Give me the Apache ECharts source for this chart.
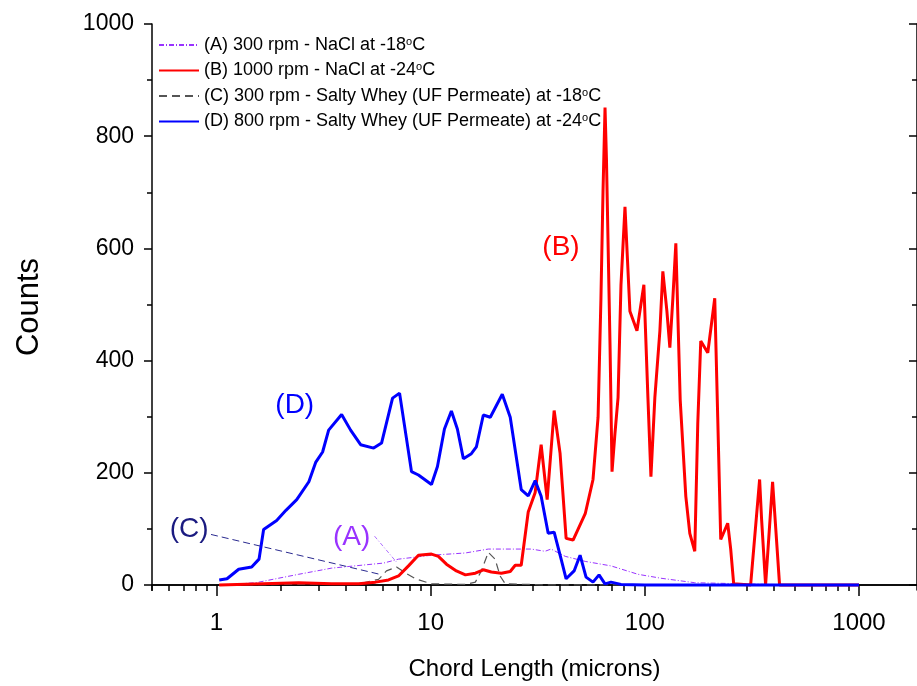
<!DOCTYPE html>
<html><head><meta charset="utf-8">
<script src="https://cdn.jsdelivr.net/npm/echarts@6/dist/echarts.min.js"></script>
<style>html,body{margin:0;padding:0;background:#fff}#c{width:917px;height:686px}</style>
</head><body><div id="c"></div>
<script>
const seriesNames = [
  '(A) 300 rpm - NaCl at -18°C',
  '(B) 1000 rpm - NaCl at -24°C',
  '(C) 300 rpm - Salty Whey (UF Permeate) at -18°C',
  '(D) 800 rpm - Salty Whey (UF Permeate) at -24°C'
];
// [chord length (microns), counts]
const seriesA = [[1.27,2],[1.53,4],[1.89,11],[2.42,19],[3.45,30],[6.03,39],[7.08,46],[10.09,53],[14.53,57],[18.59,64],[29.5,64],[34.2,60],[36.5,64],[42.5,51],[52.7,42],[69.5,34],[92.9,19],[118.9,12],[171,4],[292.6,2],[516,0],[1000,0]];
const seriesB = [[1.03,0],[2.42,4],[3.45,2],[4.61,2],[5.53,5],[6.36,9],[7.08,16],[7.88,34],[8.77,53],[10.09,55],[10.87,51],[11.85,37],[13.19,25],[14.53,18],[16.17,21],[17.62,27],[19.2,23],[21.38,21],[23.53,24],[24.83,35],[26.48,35],[28.55,130],[30.77,165],[32.81,250],[35.0,152],[37.73,311],[40.2,235],[42.91,83],[46.25,80],[52.7,127],[57.3,188],[60.5,299],[62.4,511],[63.8,701],[65.2,851],[66.2,760],[68.8,428],[70.3,202],[72.5,269],[75.0,334],[77.4,535],[80.8,674],[85.2,488],[91.9,453],[99.0,535],[103.4,334],[106.8,193],[111.4,334],[117.6,453],[121.4,559],[126.8,488],[130.9,423],[135.2,511],[139.6,609],[146.3,330],[155.4,158],[162.2,92],[171.1,60],[176.7,287],[182.5,435],[196.8,414],[212.1,511],[219.0,299],[226.2,81],[243.8,110],[251.8,64],[260.0,2],[312,0],[343.6,188],[351,117],[366.4,0],[395,184],[425.8,0],[1000,0]];
const seriesC = [[1.03,0],[4.61,2],[5.71,10],[6.22,25],[6.93,32],[7.72,20],[8.5,11],[10.09,2],[14.53,1],[16.17,5],[17.24,25],[18.59,58],[20.0,46],[21.1,16],[22.3,2],[35.4,0],[65.2,0],[100,0]];
const seriesD = [[1.03,9],[1.12,11],[1.27,28],[1.46,32],[1.58,46],[1.66,99],[1.91,115],[2.11,133],[2.37,152],[2.70,184],[2.91,219],[3.13,237],[3.34,276],[3.84,304],[4.23,276],[4.71,250],[5.42,244],[5.90,253],[6.64,333],[7.16,342],[8.14,202],[8.77,196],[10.09,179],[10.76,211],[11.60,278],[12.50,310],[13.33,278],[14.22,225],[15.49,234],[16.35,246],[17.62,303],[18.99,299],[21.60,340],[23.53,299],[26.48,170],[28.55,159],[30.77,186],[32.81,158],[35.38,92],[37.73,94],[40.67,46],[42.91,11],[46.76,25],[49.86,53],[53.17,14],[57.30,5],[61.13,18],[65.18,2],[69.50,5],[77.4,1],[100,0],[200,0],[500,0],[1000,0]];
const xMajorTicks = [1, 10, 100, 1000];
const xMinorTicks = [0.5,0.6,0.7,0.8,0.9,2,3,4,5,6,7,8,9,20,30,40,50,60,70,80,90,200,300,400,500,600,700,800,900];
const yMajorTicks = [0, 200, 400, 600, 800, 1000];
const yMinorTicks = [100, 300, 500, 700, 900];
const annotations = [
  {text: '(A)', at: [4.28, 85], color: '#9933ff'},
  {text: '(B)', at: [40.6, 602], color: '#ff0000'},
  {text: '(C)', at: [0.745, 99], color: '#1a1a80'},
  {text: '(D)', at: [2.32, 320], color: '#0000ff'}
];
const leaderC = [[0.943, 90], [5.71, 19.5]];
const leaderA = [[5.47, 87], [6.92, 41]];

const FONT = 'Liberation Sans, Arial, sans-serif';
const X_MIN = 0.5, X_MAX = 1866, Y_MIN = -9, Y_MAX = 1000;

const chart = echarts.init(document.getElementById('c'), null, {renderer: 'canvas'});
const plain = v => String(v);

function xAxisDef(pos, ticks, len, inside, showLine, showLabel, labelVals, name) {
  return {
    type: 'log', logBase: 10, position: pos, min: X_MIN, max: X_MAX,
    gridIndex: 0,
    name: name || '', nameLocation: 'middle', nameGap: 67,
    nameTextStyle: {fontFamily: FONT, fontSize: 24, color: '#000'},
    axisLine: {show: showLine, lineStyle: {color: '#000', width: 1.5}},
    axisTick: {show: true, inside: inside, length: len, customValues: ticks, lineStyle: {color: '#000', width: 1.5}},
    axisLabel: {show: showLabel, customValues: labelVals || ticks, formatter: plain, margin: 21, fontFamily: FONT, fontSize: 24, color: '#000'},
    splitLine: {show: false}, minorTick: {show: false}
  };
}
function yAxisDef(pos, ticks, len, inside, showLine, showLabel, name) {
  return {
    type: 'value', position: pos, min: Y_MIN, max: Y_MAX, gridIndex: 0,
    name: name || '', nameLocation: 'middle', nameGap: 107, nameRotate: 90,
    nameTextStyle: {fontFamily: FONT, fontSize: 31, color: '#000'},
    axisLine: {show: showLine, lineStyle: {color: '#000', width: 1.5}},
    axisTick: {show: true, inside: inside, length: len, customValues: ticks, lineStyle: {color: '#000', width: 1.5}},
    axisLabel: {show: showLabel, customValues: ticks, formatter: plain, margin: 18, fontFamily: FONT, fontSize: 23, color: '#000'},
    splitLine: {show: false}
  };
}

const option = {
  backgroundColor: '#fff',
  animation: false,
  grid: {left: 152, right: -2, top: 24, bottom: 92, containLabel: false},
  legend: {
    orient: 'vertical', left: 158, top: 36, padding: 0, itemWidth: 40, itemHeight: 14, itemGap: 7.5,
    itemStyle: {color: 'rgba(0,0,0,0)', borderColor: 'rgba(0,0,0,0)', borderWidth: 0, opacity: 0},
    textStyle: {fontFamily: FONT, fontSize: 18, color: '#000', lineHeight: 18,
      rich: {s: {fontFamily: FONT, fontSize: 11, lineHeight: 18, verticalAlign: 'top', color: '#000'}}},
    formatter: n => n.replace('°C', '{s|o}C'),
    data: seriesNames
  },
  xAxis: [
    xAxisDef('bottom', xMajorTicks, 10, false, true, true, xMajorTicks, 'Chord Length (microns)'),
    xAxisDef('bottom', xMinorTicks, 6, false, false, false),
    xAxisDef('top', xMajorTicks, 11, true, true, false),
    xAxisDef('top', xMinorTicks, 6, true, false, false)
  ],
  yAxis: [
    yAxisDef('left', yMajorTicks, 8, false, true, true, 'Counts'),
    yAxisDef('left', yMinorTicks, 5, false, false, false),
    yAxisDef('right', yMajorTicks, 8, true, true, false),
    yAxisDef('right', yMinorTicks, 5, true, false, false)
  ],
  series: [
    {name: seriesNames[0], type: 'line', data: seriesA, showSymbol: false, symbol: 'none',
     lineStyle: {color: '#9933ff', width: 1, type: [5, 2, 1, 2]}, itemStyle: {color: '#9933ff'}, z: 2,
     markLine: {silent: true, symbol: 'none', label: {show: false},
       lineStyle: {color: '#b070ff', width: 1, type: [4, 2, 1, 2]},
       data: [[{coord: leaderA[0]}, {coord: leaderA[1]}]]}},
    {name: seriesNames[1], type: 'line', data: seriesB, showSymbol: false, symbol: 'none',
     lineStyle: {color: '#ff0000', width: 3}, itemStyle: {color: '#ff0000'}, z: 3},
    {name: seriesNames[2], type: 'line', data: seriesC, showSymbol: false, symbol: 'none',
     lineStyle: {color: '#555', width: 1.2, type: [8, 5]}, itemStyle: {color: '#000'}, z: 2,
     markLine: {silent: true, symbol: 'none', label: {show: false},
       lineStyle: {color: '#2a2a90', width: 1, type: [7, 4]},
       data: [[{coord: leaderC[0]}, {coord: leaderC[1]}]]}},
    {name: seriesNames[3], type: 'line', data: seriesD, showSymbol: false, symbol: 'none',
     lineStyle: {color: '#0000ff', width: 3}, itemStyle: {color: '#0000ff'}, z: 4,
     markPoint: {silent: true, symbol: 'circle', symbolSize: 0,
       data: annotations.map(a => ({coord: a.at, value: a.text,
         label: {show: true, position: 'inside', formatter: a.text, color: a.color, fontFamily: FONT, fontSize: 28}}))}}
  ]
};
chart.setOption(option);
</script>
</body></html>
